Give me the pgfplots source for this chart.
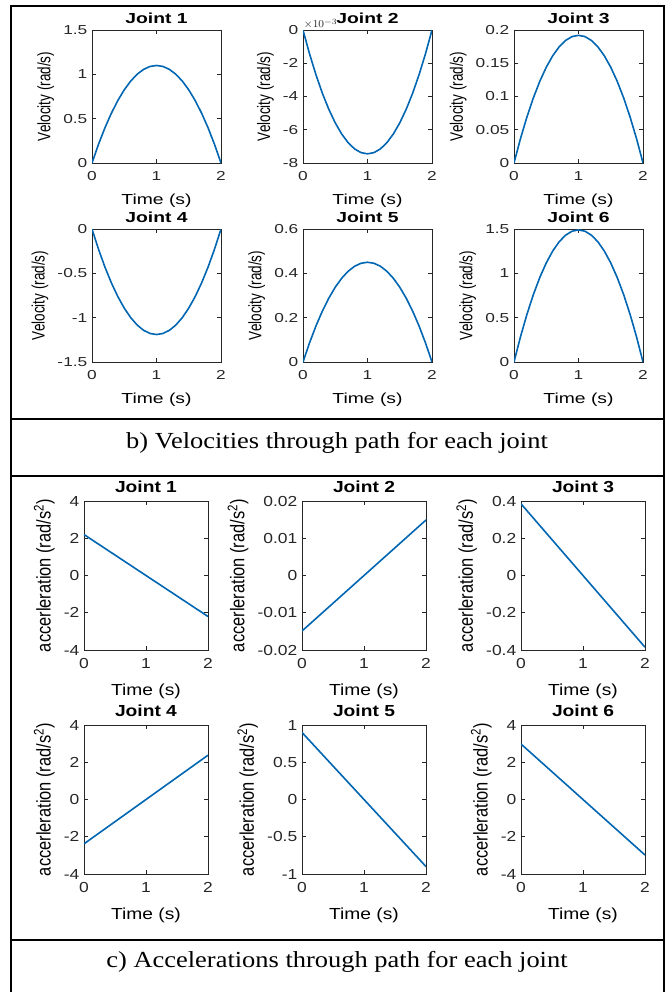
\documentclass[border=0pt]{standalone}
\usepackage{fontspec}
\usepackage{pgfplots}
\usepackage{pgfplotstable}
\pgfplotsset{compat=1.18}

% MATLAB figure was stretched sideways, so fonts get FakeStretch
\newfontfamily\bfont[FakeStretch=1.33]{Liberation Sans}
\newfontfamily\byfont[FakeStretch=0.75]{Liberation Sans}
\newfontfamily\cfont[FakeStretch=1.2]{Liberation Sans}
\newfontfamily\cyfont[FakeStretch=0.83]{Liberation Sans}
\newfontfamily\capfont[FakeStretch=1.15]{Liberation Serif}

\definecolor{mlblue}{rgb}{0,0.4,0.7}
\definecolor{mlgray}{rgb}{0.15,0.15,0.15}

% velocities (rad/s)
\pgfplotstableread{
t    j1     j2         j3      j4       j5      j6
0.0  0      0          0       0        0       0
0.1  0.209  -0.001416  0.0365  -0.2261  0.0855  0.2831
0.2  0.396  -0.002682  0.0691  -0.4284  0.1620  0.5364
0.3  0.561  -0.003800  0.0979  -0.6069  0.2295  0.7599
0.4  0.704  -0.004768  0.1229  -0.7616  0.2880  0.9536
0.5  0.825  -0.005588  0.1440  -0.8925  0.3375  1.1175
0.6  0.924  -0.006258  0.1613  -0.9996  0.3780  1.2516
0.7  1.001  -0.006780  0.1747  -1.0829  0.4095  1.3559
0.8  1.056  -0.007152  0.1843  -1.1424  0.4320  1.4304
0.9  1.089  -0.007376  0.1901  -1.1781  0.4455  1.4751
1.0  1.100  -0.007450  0.1920  -1.1900  0.4500  1.4900
1.1  1.089  -0.007376  0.1901  -1.1781  0.4455  1.4751
1.2  1.056  -0.007152  0.1843  -1.1424  0.4320  1.4304
1.3  1.001  -0.006780  0.1747  -1.0829  0.4095  1.3559
1.4  0.924  -0.006258  0.1613  -0.9996  0.3780  1.2516
1.5  0.825  -0.005588  0.1440  -0.8925  0.3375  1.1175
1.6  0.704  -0.004768  0.1229  -0.7616  0.2880  0.9536
1.7  0.561  -0.003800  0.0979  -0.6069  0.2295  0.7599
1.8  0.396  -0.002682  0.0691  -0.4284  0.1620  0.5364
1.9  0.209  -0.001416  0.0365  -0.2261  0.0855  0.2831
2.0  0      0          0       0        0       0
}\veltab

% accelerations (rad/s^2)
\pgfplotstableread{
t    a1     a2       a3      a4     a5    a6
0    2.2    -0.0149  0.385   -2.38  0.9   2.98
1    0      0        0       0      0     0
2    -2.2   0.0149   -0.385  2.38   -0.9  -2.98
}\acctab

\pgfplotsset{
  ml/.style={
    scale only axis,
    xmin=0, xmax=2, xtick={0,1,2},
    axis line style={mlgray, line width=0.6pt},
    major tick style={mlgray, line width=0.5pt},
    major tick length=3pt, tick align=inside,
    ticklabel style={text=mlgray},
    xticklabel style={yshift=-3pt},
    scaled y ticks=false,
    /pgf/number format/assume math mode=true,
    /pgf/number format/fixed,
    xlabel={Time (s)},
    cycle list={{mlblue}},
    no markers,
    every axis plot post/.append style={line width=1.2pt, line join=round},
  },
  panb/.style={ml,
    width=96.75pt, height=99.75pt,
    ticklabel style={font=\bfont\fontsize{9.75}{10}\selectfont},
    xlabel style={font=\bfont\fontsize{10.9}{12}\selectfont, yshift=-3pt},
    ylabel style={font=\byfont\fontsize{13.5}{14}\selectfont},
    title style={font=\bfont\bfseries\fontsize{10.9}{12}\selectfont, yshift=-4.5pt},
    ylabel={Velocity (rad/s)},
  },
  panc/.style={ml,
    width=93pt, height=111.75pt,
    ticklabel style={font=\cfont\fontsize{10.9}{12}\selectfont},
    xlabel style={font=\cfont\fontsize{12}{13}\selectfont, yshift=-4.5pt},
    ylabel style={font=\cyfont\fontsize{14.85}{15}\selectfont},
    title style={font=\cfont\bfseries\fontsize{12}{13}\selectfont, yshift=-3.5pt},
    ylabel={accerleration (rad/s\textsuperscript{2})},
  },
}

\begin{document}
\begin{tikzpicture}
\path[use as bounding box] (0,0) rectangle (501pt,-744pt);

% ---- b) velocities ----
\begin{axis}[panb, at={(92*0.75pt,-163*0.75pt)}, anchor=south west,
  title={Joint 1}, ymin=0, ymax=1.5, ytick={0,0.5,1,1.5}]
\addplot table[x=t, y=j1] {\veltab};
\end{axis}
\begin{axis}[panb, at={(303*0.75pt,-163*0.75pt)}, anchor=south west,
  title={Joint 2}, ymin=-0.008, ymax=0, ytick={-0.008,-0.006,-0.004,-0.002,0},
  scaled y ticks=base 10:3, tick scale binop=\times,
  every y tick scale label/.style={at={(rel axis cs:0,1)}, anchor=south west,
    inner sep=0.5pt, font=\fontsize{8}{9}\selectfont, text=mlgray}]
\addplot table[x=t, y=j2] {\veltab};
\end{axis}
\begin{axis}[panb, at={(514*0.75pt,-163*0.75pt)}, anchor=south west,
  title={Joint 3}, ymin=0, ymax=0.2, ytick={0,0.05,0.1,0.15,0.2}]
\addplot table[x=t, y=j3] {\veltab};
\end{axis}
\begin{axis}[panb, at={(92*0.75pt,-362*0.75pt)}, anchor=south west,
  title={Joint 4}, ymin=-1.5, ymax=0, ytick={-1.5,-1,-0.5,0}]
\addplot table[x=t, y=j4] {\veltab};
\end{axis}
\begin{axis}[panb, at={(303*0.75pt,-362*0.75pt)}, anchor=south west,
  title={Joint 5}, ymin=0, ymax=0.6, ytick={0,0.2,0.4,0.6}]
\addplot table[x=t, y=j5] {\veltab};
\end{axis}
\begin{axis}[panb, at={(514*0.75pt,-362*0.75pt)}, anchor=south west,
  title={Joint 6}, ymin=0, ymax=1.5, ytick={0,0.5,1,1.5}]
\addplot table[x=t, y=j6] {\veltab};
\end{axis}

% ---- c) accelerations ----
\begin{axis}[panc, at={(84*0.75pt,-650*0.75pt)}, anchor=south west,
  title={Joint 1}, ymin=-4, ymax=4, ytick={-4,-2,0,2,4}]
\addplot table[x=t, y=a1] {\acctab};
\end{axis}
\begin{axis}[panc, at={(302*0.75pt,-650*0.75pt)}, anchor=south west,
  title={Joint 2}, ymin=-0.02, ymax=0.02, ytick={-0.02,-0.01,0,0.01,0.02}]
\addplot table[x=t, y=a2] {\acctab};
\end{axis}
\begin{axis}[panc, at={(521*0.75pt,-650*0.75pt)}, anchor=south west,
  title={Joint 3}, ymin=-0.4, ymax=0.4, ytick={-0.4,-0.2,0,0.2,0.4}]
\addplot table[x=t, y=a3] {\acctab};
\end{axis}
\begin{axis}[panc, at={(84*0.75pt,-874*0.75pt)}, anchor=south west,
  title={Joint 4}, ymin=-4, ymax=4, ytick={-4,-2,0,2,4}]
\addplot table[x=t, y=a4] {\acctab};
\end{axis}
\begin{axis}[panc, at={(302*0.75pt,-874*0.75pt)}, anchor=south west,
  title={Joint 5}, ymin=-1, ymax=1, ytick={-1,-0.5,0,0.5,1}]
\addplot table[x=t, y=a5] {\acctab};
\end{axis}
\begin{axis}[panc, at={(521*0.75pt,-874*0.75pt)}, anchor=south west,
  title={Joint 6}, ymin=-4, ymax=4, ytick={-4,-2,0,2,4}]
\addplot table[x=t, y=a6] {\acctab};
\end{axis}

% table frame and captions
\begin{scope}[x=0.75pt, y=-0.75pt, line width=1.5pt]
\draw (11,992) -- (11,6) -- (664,6) -- (664,992);
\draw (11,419) -- (664,419);
\draw (11,476) -- (664,476);
\draw (11,940) -- (664,940);
\node[font=\capfont\fontsize{17.25}{18}\selectfont] at (337,443)
  {b) Velocities through path for each joint};
\node[font=\capfont\fontsize{17.25}{18}\selectfont] at (337,962)
  {c) Accelerations through path for each joint};
\end{scope}
\end{tikzpicture}
\end{document}
